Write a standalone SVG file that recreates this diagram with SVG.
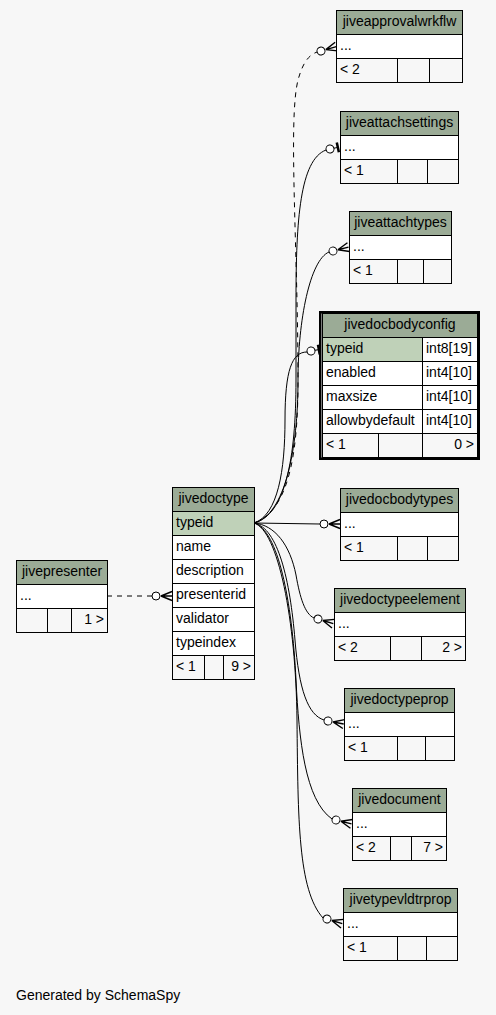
<svg xmlns="http://www.w3.org/2000/svg" xmlns:xlink="http://www.w3.org/1999/xlink" width="496" height="1015" viewBox="0 0 496 1015">
<style>
text{font-family:"Liberation Sans",Arial,Helvetica,sans-serif;font-size:14px;fill:#000}
.h{fill:#9bab96;stroke:#000;stroke-width:1}
.w{fill:#fff;stroke:#000;stroke-width:1}
.pk{fill:#bfd1b8;stroke:#000;stroke-width:1}
.b{fill:#f7f7f7;stroke:#000;stroke-width:1}
.c{text-anchor:middle}
.r{text-anchor:end}
.e{fill:none;stroke:#000;stroke-width:1}
.d{stroke-dasharray:5,5}
.tk{fill:none;stroke:#000;stroke-width:2.5}
</style>
<defs>
<g id="crowodot">
<circle r="4" fill="#fff" stroke="#000" stroke-width="1"/>
<path d="M5,0 L16,-4.5 M5,0 L16,0 M5,0 L16,4.5" fill="none" stroke="#000" stroke-width="1.4"/>
</g>
<g id="teeodot">
<circle r="4" fill="#fff" stroke="#000" stroke-width="1"/>
<path d="M4,0 L9,0" fill="none" stroke="#000" stroke-width="1"/>
<path d="M8,-5 L8,5" fill="none" stroke="#000" stroke-width="2.5"/>
</g>
</defs>
<rect x="0" y="0" width="496" height="1015" fill="#f7f7f7"/>

<g id="edges">
<path class="e d" d="M254,523 C290,510 298,450 298,380 C298,250 288,120 298,80 C303,62 309,55 317,52"/>
<path class="e" d="M254,523 C285,515 296,460 296,380 L296,300 C296,220 300,160 326,150"/>
<path class="e" d="M254,523 C285,515 298,450 298,380 C298,320 310,260 329,252"/>
<path class="e" d="M254,523 C278,515 285,470 285,420 C285,370 292,352 307,352"/>
<path class="e" d="M254,523 L320,524"/>
<path class="e" d="M254,523 C275,525 290,545 296,575 C300,598 305,614 314,618"/>
<path class="e" d="M254,523 C278,528 290,580 295,640 C299,690 308,715 324,720"/>
<path class="e" d="M254,523 C278,530 292,600 296,680 C299,740 305,800 332,819"/>
<path class="e" d="M254,523 C278,530 296,620 297,720 C298,820 298,890 323,918"/>
<path class="e d" d="M107,596 L152,596"/>
<use xlink:href="#crowodot" transform="translate(321,51) rotate(-16)"/>
<use xlink:href="#teeodot" transform="translate(330,149) rotate(-12)"/>
<use xlink:href="#crowodot" transform="translate(333,251) rotate(-14)"/>
<use xlink:href="#teeodot" transform="translate(311,351) rotate(-10)"/>
<use xlink:href="#crowodot" transform="translate(324,524)"/>
<use xlink:href="#crowodot" transform="translate(318,619) rotate(17)"/>
<use xlink:href="#crowodot" transform="translate(328,721) rotate(11)"/>
<use xlink:href="#crowodot" transform="translate(336,820) rotate(14)"/>
<use xlink:href="#crowodot" transform="translate(327,919) rotate(17)"/>
<use xlink:href="#crowodot" transform="translate(156,596)"/>
</g>

<g id="jiveapprovalwrkflw">
<rect class="h" x="336.5" y="10.5" width="126" height="24"/>
<rect class="w" x="336.5" y="34.5" width="126" height="24"/>
<rect class="b" x="336.5" y="58.5" width="61" height="24"/>
<rect class="b" x="397.5" y="58.5" width="32" height="24"/>
<rect class="b" x="429.5" y="58.5" width="33" height="24"/>
<text class="c" x="399.5" y="26">jiveapprovalwrkflw</text>
<text x="340" y="50">...</text>
<text x="340" y="74">&lt; 2</text>
</g>

<g id="jiveattachsettings">
<rect class="h" x="340.5" y="111.5" width="118" height="24"/>
<rect class="w" x="340.5" y="135.5" width="118" height="24"/>
<rect class="b" x="340.5" y="159.5" width="57" height="24"/>
<rect class="b" x="397.5" y="159.5" width="30" height="24"/>
<rect class="b" x="427.5" y="159.5" width="31" height="24"/>
<text class="c" x="399.5" y="127">jiveattachsettings</text>
<text x="344" y="151">...</text>
<text x="344" y="175">&lt; 1</text>
</g>

<g id="jiveattachtypes">
<rect class="h" x="349.5" y="211.5" width="102" height="24"/>
<rect class="w" x="349.5" y="235.5" width="102" height="24"/>
<rect class="b" x="349.5" y="259.5" width="48" height="24"/>
<rect class="b" x="397.5" y="259.5" width="26" height="24"/>
<rect class="b" x="423.5" y="259.5" width="28" height="24"/>
<text class="c" x="400.5" y="227">jiveattachtypes</text>
<text x="353" y="251">...</text>
<text x="353" y="275">&lt; 1</text>
</g>

<g id="jivedocbodyconfig">
<rect class="h" x="322.5" y="313.5" width="155" height="24"/>
<rect class="pk" x="322.5" y="337.5" width="100" height="24"/>
<rect class="w" x="422.5" y="337.5" width="55" height="24"/>
<rect class="w" x="322.5" y="361.5" width="100" height="24"/>
<rect class="w" x="422.5" y="361.5" width="55" height="24"/>
<rect class="w" x="322.5" y="385.5" width="100" height="24"/>
<rect class="w" x="422.5" y="385.5" width="55" height="24"/>
<rect class="w" x="322.5" y="409.5" width="100" height="24"/>
<rect class="w" x="422.5" y="409.5" width="55" height="24"/>
<rect class="b" x="322.5" y="433.5" width="56" height="24"/>
<rect class="b" x="378.5" y="433.5" width="44" height="24"/>
<rect class="b" x="422.5" y="433.5" width="55" height="24"/>
<rect class="tk" x="320.25" y="312.25" width="158.5" height="146.5"/>
<text class="c" x="400" y="329">jivedocbodyconfig</text>
<text x="326" y="353">typeid</text>
<text x="426" y="353">int8[19]</text>
<text x="326" y="377">enabled</text>
<text x="426" y="377">int4[10]</text>
<text x="326" y="401">maxsize</text>
<text x="426" y="401">int4[10]</text>
<text x="326" y="425">allowbydefault</text>
<text x="426" y="425">int4[10]</text>
<text x="326" y="449">&lt; 1</text>
<text class="r" x="474" y="449">0 &gt;</text>
</g>

<g id="jivedoctype">
<rect class="h" x="172.5" y="487.5" width="82" height="24"/>
<rect class="pk" x="172.5" y="511.5" width="82" height="24"/>
<rect class="w" x="172.5" y="535.5" width="82" height="24"/>
<rect class="w" x="172.5" y="559.5" width="82" height="24"/>
<rect class="w" x="172.5" y="583.5" width="82" height="24"/>
<rect class="w" x="172.5" y="607.5" width="82" height="24"/>
<rect class="w" x="172.5" y="631.5" width="82" height="24"/>
<rect class="b" x="172.5" y="655.5" width="32" height="24"/>
<rect class="b" x="204.5" y="655.5" width="19" height="24"/>
<rect class="b" x="223.5" y="655.5" width="31" height="24"/>
<text class="c" x="213.5" y="503">jivedoctype</text>
<text x="176" y="527">typeid</text>
<text x="176" y="551">name</text>
<text x="176" y="575">description</text>
<text x="176" y="599">presenterid</text>
<text x="176" y="623">validator</text>
<text x="176" y="647">typeindex</text>
<text x="176" y="671">&lt; 1</text>
<text class="r" x="251" y="671">9 &gt;</text>
</g>

<g id="jivepresenter">
<rect class="h" x="16.5" y="560.5" width="91" height="24"/>
<rect class="w" x="16.5" y="584.5" width="91" height="24"/>
<rect class="b" x="16.5" y="608.5" width="31" height="24"/>
<rect class="b" x="47.5" y="608.5" width="24" height="24"/>
<rect class="b" x="71.5" y="608.5" width="36" height="24"/>
<text class="c" x="62" y="576">jivepresenter</text>
<text x="20" y="600">...</text>
<text class="r" x="104" y="624">1 &gt;</text>
</g>

<g id="jivedocbodytypes">
<rect class="h" x="340.5" y="488.5" width="118" height="24"/>
<rect class="w" x="340.5" y="512.5" width="118" height="24"/>
<rect class="b" x="340.5" y="536.5" width="57" height="24"/>
<rect class="b" x="397.5" y="536.5" width="30" height="24"/>
<rect class="b" x="427.5" y="536.5" width="31" height="24"/>
<text class="c" x="399.5" y="504">jivedocbodytypes</text>
<text x="344" y="528">...</text>
<text x="344" y="552">&lt; 1</text>
</g>

<g id="jivedoctypeelement">
<rect class="h" x="334.5" y="588.5" width="131" height="24"/>
<rect class="w" x="334.5" y="612.5" width="131" height="24"/>
<rect class="b" x="334.5" y="636.5" width="56" height="24"/>
<rect class="b" x="390.5" y="636.5" width="31" height="24"/>
<rect class="b" x="421.5" y="636.5" width="44" height="24"/>
<text class="c" x="400" y="604">jivedoctypeelement</text>
<text x="338" y="628">...</text>
<text x="338" y="652">&lt; 2</text>
<text class="r" x="462" y="652">2 &gt;</text>
</g>

<g id="jivedoctypeprop">
<rect class="h" x="344.5" y="688.5" width="110" height="24"/>
<rect class="w" x="344.5" y="712.5" width="110" height="24"/>
<rect class="b" x="344.5" y="736.5" width="53" height="24"/>
<rect class="b" x="397.5" y="736.5" width="28" height="24"/>
<rect class="b" x="425.5" y="736.5" width="29" height="24"/>
<text class="c" x="399.5" y="704">jivedoctypeprop</text>
<text x="348" y="728">...</text>
<text x="348" y="752">&lt; 1</text>
</g>

<g id="jivedocument">
<rect class="h" x="352.5" y="788.5" width="94" height="24"/>
<rect class="w" x="352.5" y="812.5" width="94" height="24"/>
<rect class="b" x="352.5" y="836.5" width="38" height="24"/>
<rect class="b" x="390.5" y="836.5" width="21" height="24"/>
<rect class="b" x="411.5" y="836.5" width="35" height="24"/>
<text class="c" x="399.5" y="804">jivedocument</text>
<text x="356" y="828">...</text>
<text x="356" y="852">&lt; 2</text>
<text class="r" x="443" y="852">7 &gt;</text>
</g>

<g id="jivetypevldtrprop">
<rect class="h" x="343.5" y="888.5" width="114" height="24"/>
<rect class="w" x="343.5" y="912.5" width="114" height="24"/>
<rect class="b" x="343.5" y="936.5" width="54" height="24"/>
<rect class="b" x="397.5" y="936.5" width="29" height="24"/>
<rect class="b" x="426.5" y="936.5" width="31" height="24"/>
<text class="c" x="400.5" y="904">jivetypevldtrprop</text>
<text x="347" y="928">...</text>
<text x="347" y="952">&lt; 1</text>
</g>

<text x="16" y="1000">Generated by SchemaSpy</text>
</svg>
